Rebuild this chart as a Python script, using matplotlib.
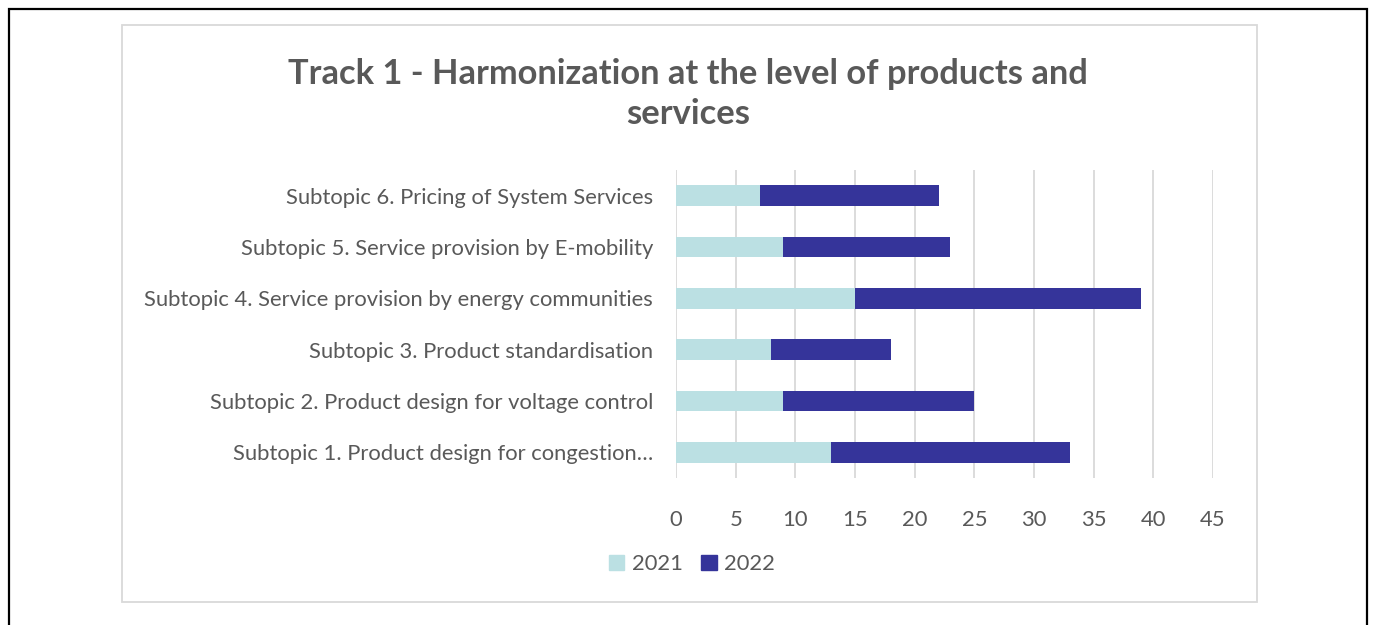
import matplotlib
matplotlib.use("Agg")
import matplotlib.pyplot as plt
from matplotlib.patches import Rectangle, Patch

plt.rcParams['font.family'] = ['Lato', 'DejaVu Sans']

categories = ["Subtopic 1. Product design for congestion\u2026",
              "Subtopic 2. Product design for voltage control",
              "Subtopic 3. Product standardisation",
              "Subtopic 4. Service provision by energy communities",
              "Subtopic 5. Service provision by E-mobility",
              "Subtopic 6. Pricing of System Services"]
values_2021 = [13, 9, 8, 15, 9, 7]
values_2022 = [20, 16, 10, 24, 14, 15]
series_names = ["2021", "2022"]
xticks = [0, 5, 10, 15, 20, 25, 30, 35, 40, 45]

W, H = 1375, 625
c_light = "#bbe0e3"
c_dark = "#35349a"
txt = "#595959"
grid = "#d9d9d9"

fig = plt.figure(figsize=(W / 100, H / 100), dpi=100)


def px(x0, y0, x1, y1):
    return [x0 / W, 1 - y1 / H, (x1 - x0) / W, (y1 - y0) / H]


# outer frame and chart box
fig.patches.append(Rectangle((9 / W, -0.05), (1367 - 9) / W, 1.05 - 9 / H,
                             transform=fig.transFigure, fill=False,
                             edgecolor="black", lw=1.6))
fig.patches.append(Rectangle((122 / W, 1 - 602 / H), (1257 - 122) / W,
                             (602 - 25) / H, transform=fig.transFigure,
                             fill=False, edgecolor=grid, lw=1.3))

ax = fig.add_axes(px(676, 170, 1213, 478))
y = range(len(categories))
ax.barh(y, values_2021, height=0.4, color=c_light, label=series_names[0], zorder=3)
ax.barh(y, values_2022, left=values_2021, height=0.4, color=c_dark,
        label=series_names[1], zorder=3)

ax.set_xlim(0, 45)
ax.set_ylim(-0.5, len(categories) - 0.5)
ax.set_xticks(xticks)
ax.set_yticks(list(y))
ax.set_yticklabels(categories)
for s in ax.spines.values():
    s.set_visible(False)
ax.grid(axis="x", color=grid, lw=1.3, zorder=0)
ax.tick_params(axis="both", length=0, colors=txt, labelsize=15.8)
ax.tick_params(axis="y", pad=16.5)
ax.tick_params(axis="x", pad=23)

fig.text(688 / W, 1 - 94 / H,
         "Track 1 - Harmonization at the level of products and\nservices",
         ha="center", va="center", fontsize=24.8, fontweight="bold",
         color=txt, linespacing=1.28)

handles = [Patch(color=c_light), Patch(color=c_dark)]
fig.legend(handles, series_names, loc="center", bbox_to_anchor=(692 / W, 1 - 564 / H),
           ncol=2, frameon=False, fontsize=15.8, labelcolor=txt,
           handlelength=0.7, handleheight=0.7, handletextpad=0.35, columnspacing=0.85)

fig.savefig("out.png", dpi=100)
